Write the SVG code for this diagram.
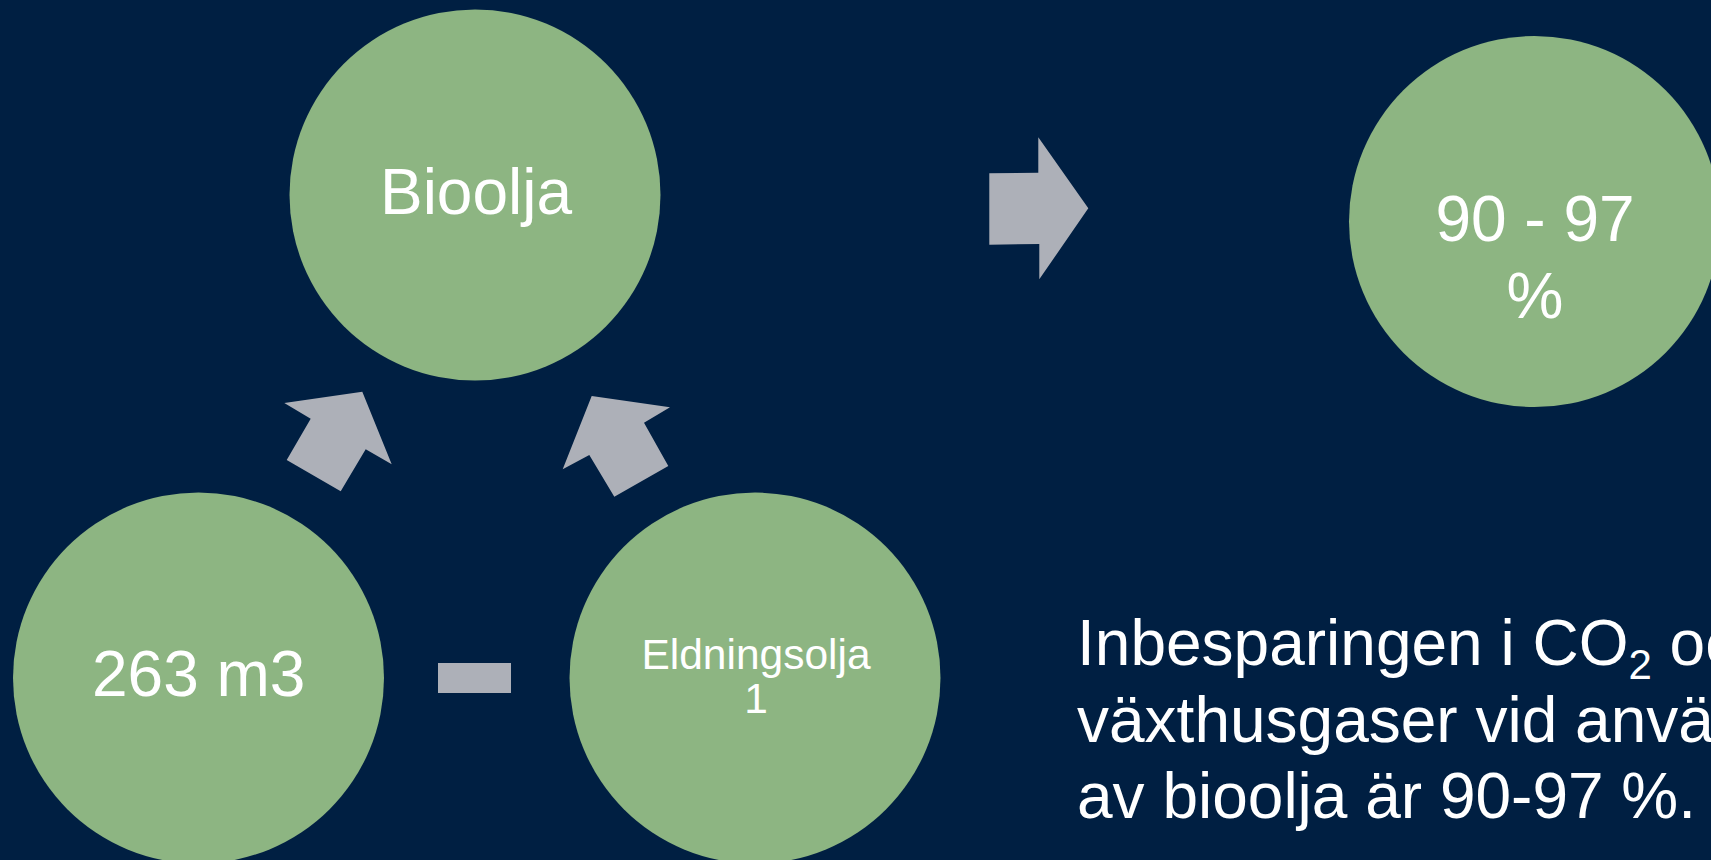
<svg xmlns="http://www.w3.org/2000/svg" width="1711" height="860" viewBox="0 0 1711 860">
<style>
.node{fill:#8DB582}
.arr{fill:#ADB0B8}
.t{font-family:"Liberation Sans",Arial,sans-serif;fill:#FFFFFF;text-anchor:middle}
.big{font-size:64px}
.small{font-size:42.5px}
.body{font-family:"Liberation Sans",Arial,sans-serif;fill:#FFFFFF;font-size:64px}
</style>
<rect x="0" y="0" width="1711" height="860" fill="#001F42"/>
<g id="connectors">
<polygon class="arr" points="362.3,391.7 391.7,464.3 365.7,449.3 340.7,491.3 286.7,460 310.7,418.7 284.3,403"/>
<polygon class="arr" points="591.7,396 670,407.3 644,422.7 668.3,466 614.3,496.7 589.3,455 562.7,469.3"/>
<polygon class="arr" points="989.3,173.3 1038.3,172.7 1038.3,137.3 1088.3,208.3 1039.3,279.3 1039.3,244 989.3,244.7"/>
<rect class="arr" x="438" y="663" width="73" height="30"/>
</g>
<g id="node-bioolja">
<circle class="node" cx="475" cy="195" r="185.5"/>
<text class="t big" x="476" y="214">Bioolja</text>
</g>
<g id="node-263">
<circle class="node" cx="198.5" cy="678" r="185.5"/>
<text class="t big" x="198.7" y="696">263 m3</text>
</g>
<g id="node-eldningsolja">
<circle class="node" cx="755" cy="678" r="185.5"/>
<text class="t small" x="756" y="668.5">Eldningsolja</text>
<text class="t small" x="756" y="713">1</text>
</g>
<g id="node-result">
<circle class="node" cx="1534.5" cy="221.5" r="185.5"/>
<text class="t big" x="1535" y="240.5">90 - 97</text>
<text class="t big" x="1535" y="317.5">%</text>
</g>
<g id="caption">
<text class="body" x="1077" y="665">Inbesparingen i CO<tspan font-size="42" dy="14">2</tspan><tspan dy="-14"> och</tspan></text>
<text class="body" x="1077" y="741.7">växthusgaser vid användning</text>
<text class="body" x="1077" y="818.3">av bioolja är 90-97 %.</text>
</g>
</svg>
